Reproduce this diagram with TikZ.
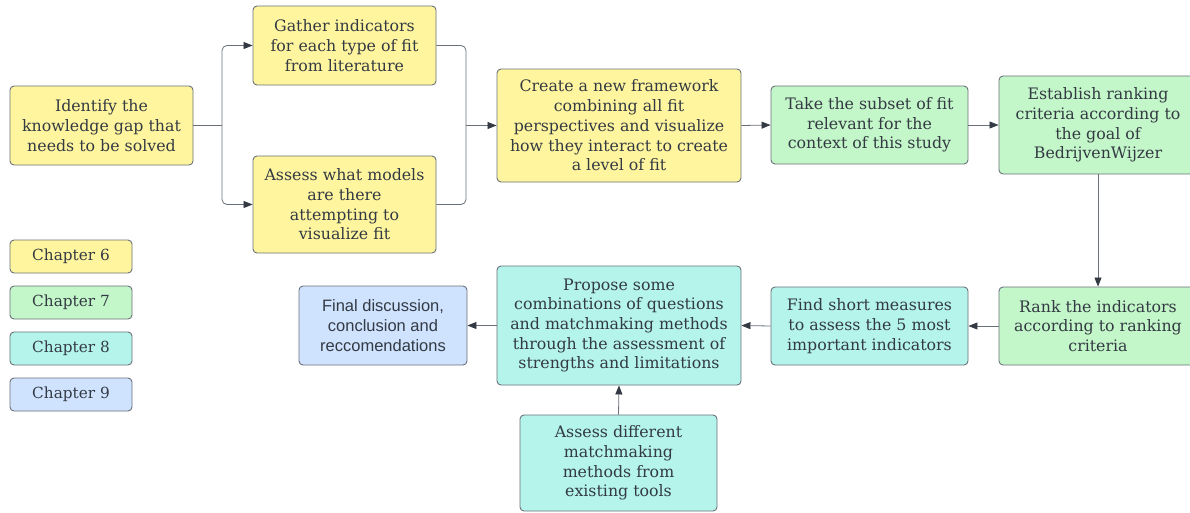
\documentclass[tikz,border=0pt]{standalone}
\usepackage{fontspec}
\setmainfont{DejaVu Serif}
\newfontfamily\endfont{Liberation Sans}
\usetikzlibrary{arrows.meta,positioning}
\definecolor{ink}{HTML}{333A43}
\definecolor{edge}{HTML}{6A7079}
\definecolor{chsix}{HTML}{FFF59E}
\definecolor{chseven}{HTML}{C3F6C8}
\definecolor{cheight}{HTML}{B4F4EA}
\definecolor{chnine}{HTML}{CFE3FF}

\begin{document}
\begin{tikzpicture}[x=1pt,y=-1pt,
  box/.style={draw=edge,line width=0.9pt,rounded corners=4pt,align=center,
    text=ink,inner sep=0pt,font=\fontsize{15.8}{19.7}\selectfont},
  six/.style={box,fill=chsix},
  seven/.style={box,fill=chseven},
  eight/.style={box,fill=cheight},
  nine/.style={box,fill=chnine},
  key/.style={minimum width=122pt,minimum height=33pt,font=\fontsize{15.3}{18}\selectfont},
  wire/.style={draw=edge,line width=0.8pt,rounded corners=5pt},
  link/.style={wire,-{Triangle[length=9pt,width=7pt,color=ink]}}]
  \useasboundingbox (0,0) rectangle (1190,512);
  \clip (0,0) rectangle (1190,512);
  % Chapter 6
  \node[six,minimum width=183pt,minimum height=79pt] (gap) at (101.5,125.5)
    {Identify the\\knowledge gap that\\needs to be solved};
  \node[six,minimum width=183pt,minimum height=79pt] (gather) at (344.5,45.5)
    {Gather indicators\\for each type of fit\\from literature};
  \node[six,minimum width=183pt,minimum height=97pt] (models) at (344.5,204.5)
    {Assess what models\\are there\\attempting to\\visualize fit};
  \node[six,minimum width=244pt,minimum height=113pt] (frame) at (619,125.5)
    {Create a new framework\\combining all fit\\perspectives and visualize\\how they interact to create\\a level of fit};
  % Chapter 7
  \node[seven,minimum width=197pt,minimum height=78pt] (subset) at (869.5,125)
    {Take the subset of fit\\relevant for the\\context of this study};
  \node[seven,minimum width=198pt,minimum height=98pt] (criteria) at (1098,125)
    {Establish ranking\\criteria according to\\the goal of\\BedrijvenWijzer};
  \node[seven,minimum width=198pt,minimum height=78pt] (rank) at (1098,326)
    {Rank the indicators\\according to ranking\\criteria};
  % Chapter 8
  \node[eight,minimum width=197pt,minimum height=78pt] (measures) at (869.5,326)
    {Find short measures\\to assess the 5 most\\important indicators};
  \node[eight,minimum width=244pt,minimum height=119pt] (propose) at (619,325.5)
    {Propose some\\combinations of questions\\and matchmaking methods\\through the assessment of\\strengths and limitations};
  \node[eight,minimum width=197pt,minimum height=96pt] (tools) at (618.5,463)
    {Assess different\\matchmaking\\methods from\\existing tools};
  % Chapter 9
  \node[nine,minimum width=168pt,minimum height=79pt,
    font=\endfont\fontsize{16.5}{19.7}\selectfont] (final) at (383,325.5)
    {Final discussion,\\conclusion and\\reccomendations};
  % Legend
  \node[six,key] (keysix) at (71,256.5) {Chapter 6};
  \node[seven,key] (keyseven) at (71,302.5) {Chapter 7};
  \node[eight,key] (keyeight) at (71,348.5) {Chapter 8};
  \node[nine,key] (keynine) at (71,394.5) {Chapter 9};
  % Connectors
  \coordinate (split) at (222,125.5);
  \coordinate (join) at (466,125.5);
  \draw[wire] (gap.east) -- (split);
  \draw[link] (split) |- (gather.west);
  \draw[link] (split) |- (models.west);
  \draw[wire] (gather.east) -| (join);
  \draw[wire] (models.east) -| (join);
  \draw[link] (join) -- (frame.west);
  \draw[link] (frame.east) -- (subset.west);
  \draw[link] (subset.east) -- (criteria.west);
  \draw[link] (criteria.south) -- (rank.north);
  \draw[link] (rank.west) -- (measures.east);
  \draw[link] (measures.west) -- (propose.east);
  \draw[link] (propose.west) -- (final.east);
  \draw[link] (tools.north) -- (propose.south);
\end{tikzpicture}
\end{document}
